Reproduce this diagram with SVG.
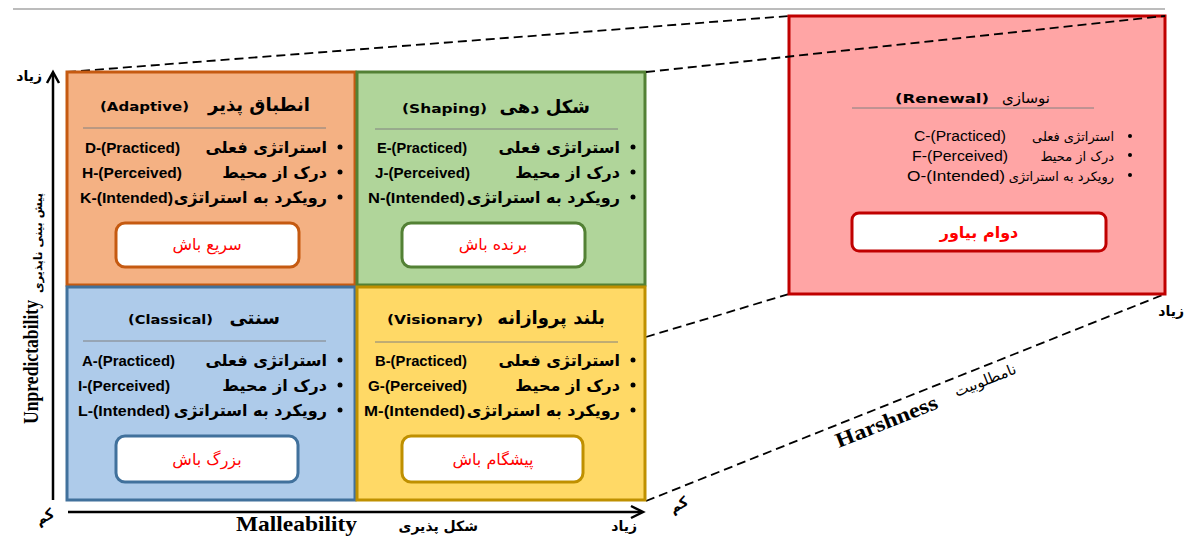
<svg xmlns="http://www.w3.org/2000/svg" width="1190" height="536" viewBox="0 0 1190 536">
<defs>
<style>
.fa{font-family:"DejaVu Sans",sans-serif;fill:#000}
.ti{font-family:"DejaVu Sans",sans-serif;font-weight:bold;font-size:13px;fill:#000}
.tf{font-family:"DejaVu Sans",sans-serif;font-weight:bold;font-size:18px;fill:#000;text-anchor:end}
.it{font-family:"DejaVu Sans",sans-serif;font-weight:bold;font-size:16px;fill:#000;text-anchor:end}
.en{font-family:"Liberation Sans",Arial,sans-serif;font-weight:bold;font-size:14px;fill:#000}
.enr{font-family:"Liberation Sans",Arial,sans-serif;font-size:14px;fill:#000}
.btn{fill:#fff;stroke-width:3}
.bt{font-family:"DejaVu Sans",sans-serif;font-size:16px;fill:#FF0000;text-anchor:middle}
.sep{stroke:#808080;stroke-width:1}
.ax{font-family:"DejaVu Sans",sans-serif;font-weight:bold;fill:#000}
.lat{font-family:"Liberation Serif","Times New Roman",serif;font-weight:bold;fill:#000}
.dash{stroke:#000;stroke-width:1.8;stroke-dasharray:9 5;fill:none}
</style>
</defs>

<line x1="13" y1="9" x2="1165" y2="9" stroke="#A6A6A6" stroke-width="1.5"/>

<g id="connectors">
<line class="dash" x1="67" y1="72" x2="789" y2="16"/>
<line class="dash" x1="646" y1="337" x2="789" y2="294"/>
<line class="dash" x1="646" y1="501" x2="1165" y2="294"/>
</g>

<g id="renewal">
<rect x="789" y="16" width="376" height="278" fill="#FFA5A5" stroke="#C00000" stroke-width="3"/>
<text class="ti" x="895" y="103" textLength="94" lengthAdjust="spacingAndGlyphs">(Renewal)</text>
<text class="fa" x="1050" y="103" font-size="15" text-anchor="end">نوسازی</text>
<line class="sep" x1="852" y1="108" x2="1094" y2="108" stroke="#404040"/>
<circle cx="1130" cy="136" r="2"/><circle cx="1130" cy="155" r="2"/><circle cx="1130" cy="175" r="2"/>
<text class="enr" x="914" y="141" textLength="92" lengthAdjust="spacingAndGlyphs">C-(Practiced)</text>
<text class="enr" x="912" y="161" textLength="96" lengthAdjust="spacingAndGlyphs">F-(Perceived)</text>
<text class="enr" x="907" y="181" textLength="98" lengthAdjust="spacingAndGlyphs">O-(Intended)</text>
<text class="fa" x="1114" y="141" font-size="13" text-anchor="end">استراتژی فعلی</text>
<text class="fa" x="1114" y="161" font-size="13" text-anchor="end">درک از محیط</text>
<text class="fa" x="1114" y="181" font-size="13" text-anchor="end">رویکرد به استراتژی</text>
<rect class="btn" x="852" y="213" width="254" height="38" rx="7" stroke="#C00000"/>
<text class="bt" x="979" y="238" font-weight="bold">دوام بیاور</text>
</g>

<g id="adaptive">
<rect x="67" y="72" width="288" height="213" fill="#F4B183" stroke="#C55A11" stroke-width="3"/>
<text class="ti" x="100" y="111" textLength="89" lengthAdjust="spacingAndGlyphs">(Adaptive)</text>
<text class="tf" x="310" y="111">انطباق پذیر</text>
<line class="sep" x1="83" y1="128" x2="326" y2="128"/>
<circle cx="340" cy="147" r="2.5"/><circle cx="340" cy="172" r="2.5"/><circle cx="340" cy="197" r="2.5"/>
<text class="en" x="85" y="153" textLength="95" lengthAdjust="spacingAndGlyphs">D-(Practiced)</text>
<text class="en" x="82" y="178" textLength="100" lengthAdjust="spacingAndGlyphs">H-(Perceived)</text>
<text class="en" x="80" y="203" textLength="93" lengthAdjust="spacingAndGlyphs">K-(Intended)</text>
<text class="it" x="327" y="153">استراتژی فعلی</text>
<text class="it" x="327" y="178">درک از محیط</text>
<text class="it" x="327" y="203">رویکرد به استراتژی</text>
<rect class="btn" x="116" y="223" width="183" height="44" rx="9" stroke="#C55A11"/>
<text class="bt" x="207" y="250">سریع باش</text>
</g>

<g id="shaping">
<rect x="357" y="72" width="288" height="213" fill="#B0D59A" stroke="#538135" stroke-width="3"/>
<text class="ti" x="402" y="113" textLength="85" lengthAdjust="spacingAndGlyphs">(Shaping)</text>
<text class="tf" x="590" y="113">شکل دهی</text>
<line class="sep" x1="375" y1="129" x2="618" y2="129"/>
<circle cx="633" cy="147" r="2.5"/><circle cx="633" cy="172" r="2.5"/><circle cx="633" cy="197" r="2.5"/>
<text class="en" x="377" y="153" textLength="90" lengthAdjust="spacingAndGlyphs">E-(Practiced)</text>
<text class="en" x="375" y="178" textLength="95" lengthAdjust="spacingAndGlyphs">J-(Perceived)</text>
<text class="en" x="368" y="203" textLength="97" lengthAdjust="spacingAndGlyphs">N-(Intended)</text>
<text class="it" x="620" y="153">استراتژی فعلی</text>
<text class="it" x="620" y="178">درک از محیط</text>
<text class="it" x="620" y="203">رویکرد به استراتژی</text>
<rect class="btn" x="402" y="223" width="183" height="44" rx="9" stroke="#538135"/>
<text class="bt" x="493" y="250">برنده باش</text>
</g>

<g id="classical">
<rect x="67" y="287" width="288" height="213" fill="#AECBEA" stroke="#41719C" stroke-width="3"/>
<text class="ti" x="128" y="324" textLength="85" lengthAdjust="spacingAndGlyphs">(Classical)</text>
<text class="tf" x="280" y="324">سنتی</text>
<line class="sep" x1="83" y1="341" x2="326" y2="341"/>
<circle cx="340" cy="360" r="2.5"/><circle cx="340" cy="385" r="2.5"/><circle cx="340" cy="410" r="2.5"/>
<text class="en" x="82" y="366" textLength="93" lengthAdjust="spacingAndGlyphs">A-(Practiced)</text>
<text class="en" x="78" y="391" textLength="92" lengthAdjust="spacingAndGlyphs">I-(Perceived)</text>
<text class="en" x="78" y="416" textLength="92" lengthAdjust="spacingAndGlyphs">L-(Intended)</text>
<text class="it" x="327" y="366">استراتژی فعلی</text>
<text class="it" x="327" y="391">درک از محیط</text>
<text class="it" x="327" y="416">رویکرد به استراتژی</text>
<rect class="btn" x="116" y="436" width="182" height="46" rx="9" stroke="#41719C"/>
<text class="bt" x="207" y="465">بزرگ باش</text>
</g>

<g id="visionary">
<rect x="357" y="287" width="288" height="213" fill="#FFD966" stroke="#BF9000" stroke-width="3"/>
<text class="ti" x="387" y="324" textLength="96" lengthAdjust="spacingAndGlyphs">(Visionary)</text>
<text class="tf" x="605" y="324">بلند پروازانه</text>
<line class="sep" x1="375" y1="342" x2="618" y2="342"/>
<circle cx="633" cy="360" r="2.5"/><circle cx="633" cy="385" r="2.5"/><circle cx="633" cy="410" r="2.5"/>
<text class="en" x="375" y="366" textLength="92" lengthAdjust="spacingAndGlyphs">B-(Practiced)</text>
<text class="en" x="368" y="391" textLength="99" lengthAdjust="spacingAndGlyphs">G-(Perceived)</text>
<text class="en" x="364" y="416" textLength="101" lengthAdjust="spacingAndGlyphs">M-(Intended)</text>
<text class="it" x="620" y="366">استراتژی فعلی</text>
<text class="it" x="620" y="391">درک از محیط</text>
<text class="it" x="620" y="416">رویکرد به استراتژی</text>
<rect class="btn" x="402" y="436" width="181" height="46" rx="9" stroke="#BF9000"/>
<text class="bt" x="493" y="465">پیشگام باش</text>
</g>

<g id="shaping-dash">
<line class="dash" x1="646" y1="72" x2="1165" y2="16"/>
</g>

<g id="axes" stroke="#000" stroke-width="2.5" fill="none">
<line x1="53" y1="500" x2="53" y2="73"/>
<polyline points="47,83 53,72 59,83"/>
<line x1="68" y1="512" x2="642" y2="512"/>
<polyline points="631,506 643,512 631,518"/>
</g>

<g id="axis-labels">
<text class="ax" x="42" y="81" text-anchor="end" font-size="14">زیاد</text>
<text class="ax" transform="translate(47,521) rotate(-30)" text-anchor="middle" font-size="14">کم</text>
<text class="lat" x="236" y="531" font-size="21" textLength="121" lengthAdjust="spacingAndGlyphs">Malleability</text>
<text class="ax" x="478" y="531" text-anchor="end" font-size="14">شکل پذیری</text>
<text class="ax" x="637" y="531" text-anchor="end" font-size="14">زیاد</text>
<text class="lat" transform="translate(38,362) rotate(-90)" text-anchor="middle" font-size="21" textLength="124" lengthAdjust="spacingAndGlyphs">Unpredictability</text>
<text class="ax" transform="translate(42,243) rotate(-90)" text-anchor="middle" font-size="11.5">پیش بینی ناپذیری</text>
<text class="ax" transform="translate(681,509) rotate(-30)" text-anchor="middle" font-size="14">کم</text>
<text class="ax" x="1184" y="316" text-anchor="end" font-size="14">زیاد</text>
<text class="lat" transform="translate(889,428) rotate(-21.7)" text-anchor="middle" font-size="21" textLength="108" lengthAdjust="spacingAndGlyphs">Harshness</text>
<text class="fa" transform="translate(987,385) rotate(-21.7)" text-anchor="middle" font-size="15">نامطلوبیت</text>
</g>
</svg>
